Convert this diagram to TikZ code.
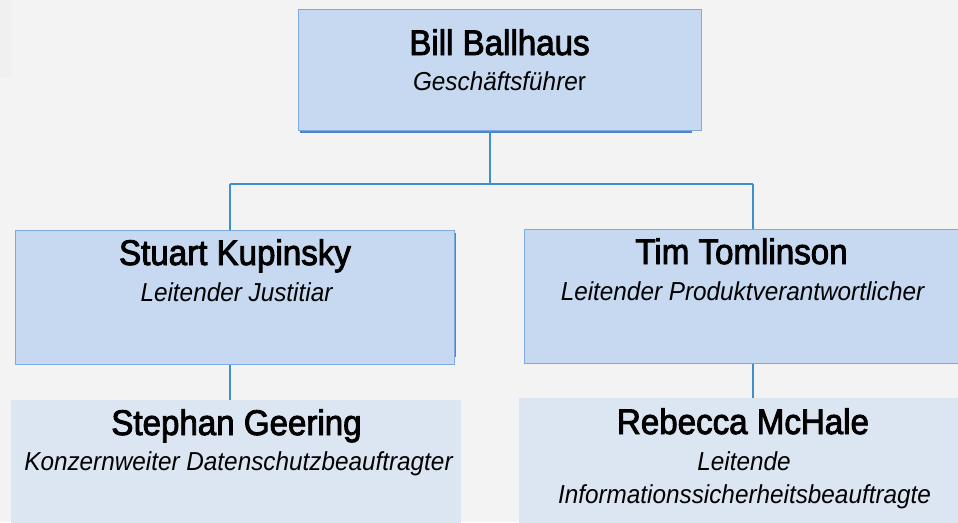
\documentclass[tikz,border=0pt]{standalone}
\usepackage{fontspec}
\setmainfont{Liberation Sans}[FakeStretch=0.935]
\newfontfamily\namefont{Liberation Sans}[FakeBold=2.5,FakeStretch=0.93]
\definecolor{bg}{HTML}{F3F3F3}
\definecolor{faint}{HTML}{F0F0F0}
\definecolor{boxfill}{HTML}{C6D9F0}
\definecolor{boxline}{HTML}{7DAAE0}
\definecolor{boxdark}{HTML}{4A86C8}
\definecolor{lowfill}{HTML}{DCE6F2}
\definecolor{conn}{HTML}{3D8FCF}
\begin{document}
\begin{tikzpicture}[x=1pt,y=-1pt,
  box/.style={draw=boxline, fill=boxfill, line width=1.3pt, anchor=north west, inner sep=0pt},
  lowbox/.style={fill=lowfill, anchor=north west, inner sep=0pt},
  nametext/.style={anchor=base, inner sep=0pt, font=\namefont\fontsize{35.6}{42}\selectfont},
  roletext/.style={anchor=base, inner sep=0pt, font=\fontsize{26}{31}\selectfont\itshape},
  connector/.style={draw=conn, line width=1.8pt},
  edge/.style={draw=boxdark, line width=1.5pt}]
\useasboundingbox (0,0) rectangle (958,522);
\clip (0,0) rectangle (958,522);
\fill[bg] (0,0) rectangle (958,522);
\fill[faint] (0,0) rectangle (12,77);
% boxes
\node[box, minimum width=403pt, minimum height=121pt] (top) at (298,9) {};
\draw[edge] (300,132) -- (692,132);
\node[box, minimum width=439pt, minimum height=134pt] (stuart) at (15,230) {};
\draw[edge] (455.5,233) -- (455.5,357);
\node[box, minimum width=440pt, minimum height=134pt] (tim) at (524,229) {};
\node[lowbox, minimum width=450pt, minimum height=130pt] (stephan) at (11,400) {};
\node[lowbox, minimum width=445pt, minimum height=130pt] (rebecca) at (519,398) {};
% connectors
\coordinate (j) at (490,184);
\coordinate (hl) at (230,184);
\coordinate (hr) at (753,184);
\draw[connector] (top.south -| j) -- (j);
\draw[connector] (hl) -- (hr);
\draw[connector] (hl) -- (hl |- stuart.north);
\draw[connector] (hr) -- (hr |- tim.north);
\draw[connector] (stuart.south -| hl) -- (stephan.north -| hl);
\draw[connector] (tim.south -| hr) -- (rebecca.north -| hr);
% texts
\node[nametext] (n1) at (499.5,55) {Bill Ballhaus};
\node[roletext] (r1) at (499.5,90) {Geschäftsführe\upshape r};
\node[nametext] (n2) at (235,265) {Stuart Kupinsky};
\node[roletext] (r2) at (236.5,301) {Leitender Justitiar};
\node[nametext] (n3) at (741.5,264) {Tim Tomlinson};
\node[roletext] (r3) at (742.5,300) {Leitender Produktverantwortlicher};
\node[nametext] (n4) at (236.5,435) {Stephan Geering};
\node[roletext] (r4) at (238.5,470) {Konzernweiter Datenschutzbeauftragter};
\node[nametext] (n5) at (743,434) {Rebecca McHale};
\node[roletext] (r5a) at (744,470) {Leitende};
\node[roletext] (r5b) at (744.5,503) {Informationssicherheitsbeauftragte};
\end{tikzpicture}
\end{document}
